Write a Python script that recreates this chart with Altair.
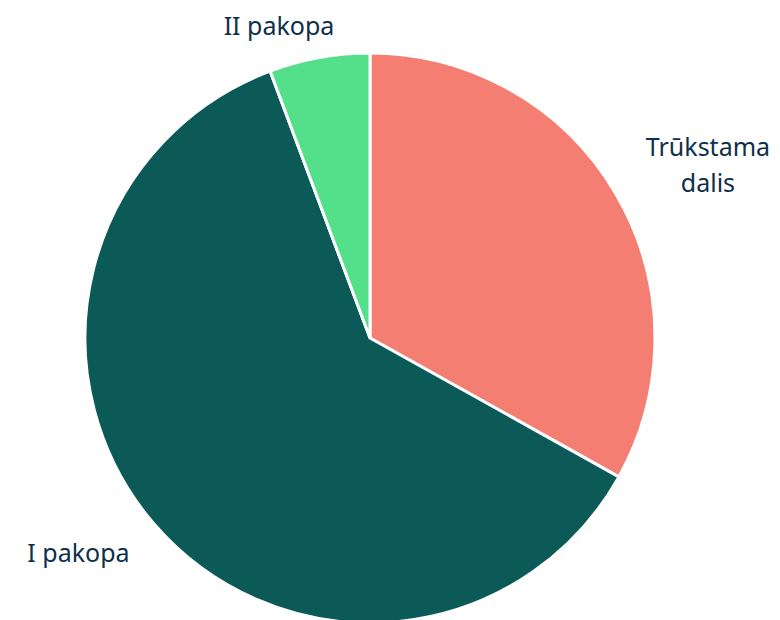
import altair as alt
import pandas as pd
import math

categories = ["Trūkstama dalis", "I pakopa", "II pakopa"]
values = [33.1, 61.2, 5.7]
colors = ["#F47E72", "#0B5A57", "#54E08A"]
order = [0, 1, 2]

df = pd.DataFrame({"cat": categories, "val": values, "ord": order})

cx, cy, R = 362, 330, 285

pie = alt.Chart(df).mark_arc(stroke="white", strokeWidth=3).encode(
    theta=alt.Theta("val:Q", stack=True),
    order=alt.Order("ord:Q"),
    color=alt.Color("cat:N", scale=alt.Scale(domain=categories, range=colors), legend=None),
    x=alt.value(cx), y=alt.value(cy), radius=alt.value(R),
)

lab_base = alt.Chart(df).transform_joinaggregate(
    total="sum(val)"
).transform_window(
    cum="sum(val)", sort=[alt.SortField("ord")], frame=[None, 0]
).transform_calculate(
    mid="(datum.cum - datum.val / 2) / datum.total * 360"
)

def label(cat, r, dx, dy, text):
    return lab_base.transform_filter(alt.datum.cat == cat).mark_text(
        font="Noto Sans", fontSize=25, color="#0E2F4A", align="center",
        baseline="middle", lineHeight=36, dx=dx, dy=dy,
    ).encode(
        theta=alt.Theta("mid:Q", scale=alt.Scale(domain=[0, 360], range=[0, 2 * math.pi])),
        x=alt.value(cx), y=alt.value(cy), radius=alt.value(r),
        text=alt.value(text),
    )

labels = alt.layer(
    label("II pakopa", 320, -34, 4, "II pakopa"),
    label("Trūkstama dalis", 378, 12, 1, ["Trūkstama", "dalis"]),
    label("I pakopa", 362, -17, -20, "I pakopa"),
)

chart = alt.layer(pie, labels).resolve_scale(theta="independent").properties(
    width=764, height=612, autosize=alt.AutoSizeParams(type="none"), padding=0
).configure_view(stroke=None)

chart.save("out.html", embed_options={"renderer": "svg", "actions": False})
